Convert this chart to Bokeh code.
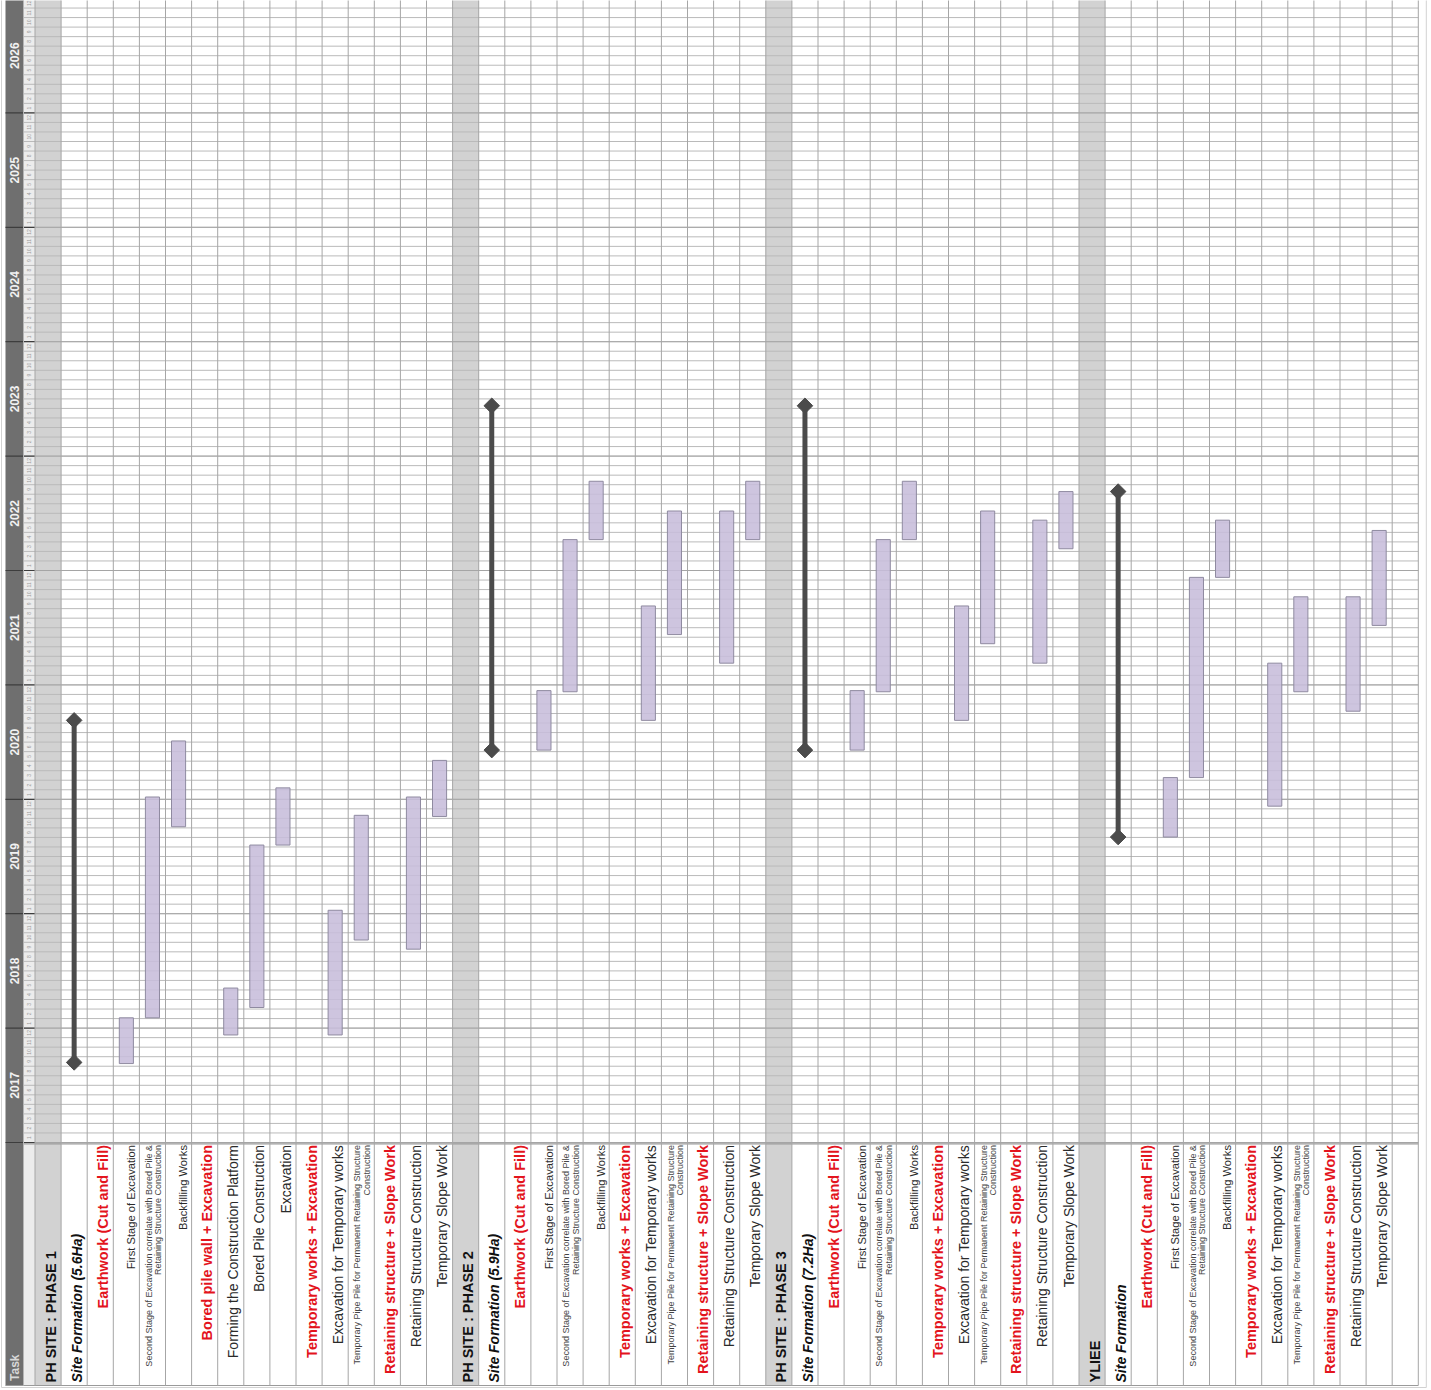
import numpy as np
from bokeh.plotting import figure
from bokeh.models import Range1d, ColumnDataSource
from bokeh.core.properties import value
from bokeh.embed import file_html
from bokeh.resources import INLINE

# ---------------- data ----------------
years = list(range(2017, 2027))
year_labels = [str(y) for y in years]
month_labels = [str(m) for m in range(1, 13)]
axis_title = "Task"

row_labels = [
    "PH SITE : PHASE 1", "Site Formation (5.6Ha)", "Earthwork (Cut and Fill)",
    "First Stage of Excavation",
    "Second Stage of Excavation correlate with Bored Pile &\nRetaining Structure Construction",
    "Backfilling Works", "Bored pile wall + Excavation", "Forming the Construction Platform",
    "Bored Pile Construction", "Excavation", "Temporary works + Excavation",
    "Excavation for Temporary works",
    "Temporary Pipe Pile for Permanent Retaining Structure\nConstruction",
    "Retaining structure + Slope Work", "Retaining Structure Construction", "Temporary Slope Work",
    "PH SITE : PHASE 2", "Site Formation (5.9Ha)", "Earthwork (Cut and Fill)",
    "First Stage of Excavation",
    "Second Stage of Excavation correlate with Bored Pile &\nRetaining Structure Construction",
    "Backfilling Works", "Temporary works + Excavation", "Excavation for Temporary works",
    "Temporary Pipe Pile for Permanent Retaining Structure\nConstruction",
    "Retaining structure + Slope Work", "Retaining Structure Construction", "Temporary Slope Work",
    "PH SITE : PHASE 3", "Site Formation (7.2Ha)", "Earthwork (Cut and Fill)",
    "First Stage of Excavation",
    "Second Stage of Excavation correlate with Bored Pile &\nRetaining Structure Construction",
    "Backfilling Works", "Temporary works + Excavation", "Excavation for Temporary works",
    "Temporary Pipe Pile for Permanent Retaining Structure\nConstruction",
    "Retaining structure + Slope Work", "Retaining Structure Construction", "Temporary Slope Work",
    "YLIEE", "Site Formation", "Earthwork (Cut and Fill)",
    "First Stage of Excavation",
    "Second Stage of Excavation correlate with Bored Pile &\nRetaining Structure Construction",
    "Backfilling Works", "Temporary works + Excavation", "Excavation for Temporary works",
    "Temporary Pipe Pile for Permanent Retaining Structure\nConstruction",
    "Retaining structure + Slope Work", "Retaining Structure Construction", "Temporary Slope Work",
    "",
]
row_kinds = [
    "phase", "sf", "group", "task_s", "tiny", "task_s", "group", "task", "task", "task",
    "group", "task", "tiny", "group", "task", "task",
    "phase", "sf", "group", "task_s", "tiny", "task_s", "group", "task", "tiny", "group", "task", "task",
    "phase", "sf", "group", "task_s", "tiny", "task_s", "group", "task", "tiny", "group", "task", "task",
    "phase", "sf", "group", "task_s", "tiny", "task_s", "group", "task", "tiny", "group", "task", "task",
    "empty",
]

# summary (milestone) lines
ms_row = [1, 17, 29, 41]
ms_start = [2017.70, 2020.43, 2020.43, 2019.67]
ms_end = [2020.69, 2023.44, 2023.44, 2022.69]

# task bars
bar_row = [3, 4, 5, 7, 8, 9, 11, 12, 14, 15,
           19, 20, 21, 23, 24, 26, 27,
           31, 32, 33, 35, 36, 38, 39,
           43, 44, 45, 47, 48, 50, 51]
bar_start = [2017.69, 2018.09, 2019.76, 2017.94, 2018.18, 2019.60, 2017.94, 2018.77, 2018.69, 2019.85,
             2020.43, 2020.94, 2022.27, 2020.69, 2021.44, 2021.19, 2022.27,
             2020.43, 2020.94, 2022.27, 2020.69, 2021.36, 2021.19, 2022.19,
             2019.67, 2020.19, 2021.94, 2019.94, 2020.94, 2020.77, 2021.52]
bar_end = [2018.09, 2020.02, 2020.51, 2018.35, 2019.60, 2020.10, 2019.03, 2019.86, 2020.02, 2020.34,
           2020.95, 2022.27, 2022.78, 2021.69, 2022.52, 2022.52, 2022.78,
           2020.95, 2022.27, 2022.78, 2021.69, 2022.52, 2022.44, 2022.69,
           2020.19, 2021.94, 2022.44, 2021.19, 2021.77, 2021.77, 2022.35]

# ---------------- layout ----------------
ROW_PX = 26.1      # pixels per row
ROW0_PX = 34.5     # pixel position of the first row's left edge
YEAR_PX = 114.4    # pixels per year
W, H = 1431, 1390
n_rows = len(row_labels)
x_left = -ROW0_PX / ROW_PX
x_right = x_left + W / ROW_PX
y0 = years[0]
y_top = y0 + 1142 / YEAR_PX
y_bot = y_top - H / YEAR_PX
y_task_bottom = y0 - (1385 - 1142) / YEAR_PX
strip_l = (5 - ROW0_PX) / ROW_PX
strip_r = (23 - ROW0_PX) / ROW_PX
y_end = years[-1] + 1

FONT = value("Liberation Sans")

p = figure(width=W, height=H, output_backend="svg", toolbar_location=None,
           x_range=Range1d(x_left, x_right), y_range=Range1d(y_bot, y_top),
           min_border=0, background_fill_color="white", border_fill_color="white")
p.axis.visible = False
p.grid.visible = False
p.outline_line_color = None

# outer frame
p.quad(left=[strip_l - 4 / ROW_PX], right=[n_rows + 8 / ROW_PX], bottom=[y_bot + 3 / YEAR_PX],
       top=[y_top + 0.5], fill_color=None, line_color="#d2d2d2", line_width=1)

# dark year strip and month column
p.quad(left=[strip_l], right=[strip_r], bottom=[y_task_bottom], top=[y_top + 0.5],
       fill_color="#6f6f6f", line_color=None)
p.quad(left=[strip_r], right=[0], bottom=[y_task_bottom], top=[y_top + 0.5],
       fill_color="#ececec", line_color=None)

# shaded phase header rows
header_rows = [i for i, k in enumerate(row_kinds) if k == "phase"]
p.quad(left=header_rows, right=[h + 1 for h in header_rows],
       bottom=[y_task_bottom] * len(header_rows), top=[y_top + 0.5] * len(header_rows),
       fill_color="#d2d2d2", line_color=None)

# month grid lines
month_y = [y + m / 12 for y in years for m in range(12)] + [y_end]
p.segment(x0=[strip_r] * len(month_y), x1=[n_rows] * len(month_y), y0=month_y, y1=month_y,
          line_color="#bababa", line_width=1)
# year lines
year_y = years + [y_end]
p.segment(x0=[strip_l] * len(year_y), x1=[0] * len(year_y), y0=year_y, y1=year_y,
          line_color="#3d3d3d", line_width=1.2)
p.segment(x0=[0] * len(year_y), x1=[n_rows] * len(year_y), y0=year_y, y1=year_y,
          line_color="#a5a5a5", line_width=1)
# bottom of time area / bottom of task area
p.segment(x0=[strip_r, strip_l], x1=[n_rows, n_rows], y0=[y0 - 0.012, y_task_bottom],
          y1=[y0 - 0.012, y_task_bottom], line_color="#9a9a9a", line_width=1.2)

# vertical row lines
vx = list(range(n_rows + 1))
p.segment(x0=vx, x1=vx, y0=[y_task_bottom] * len(vx), y1=[y_top + 0.5] * len(vx),
          line_color="#a6a6a6", line_width=1)
p.segment(x0=[strip_r], x1=[strip_r], y0=[y_task_bottom], y1=[y_top + 0.5],
          line_color="#b5b5b5", line_width=1)

# month numbers
mx, my, mt = [], [], []
for y in years:
    for m, lab in enumerate(month_labels):
        mx.append(strip_r / 2)
        my.append(y + (m + 0.5) / 12)
        mt.append(lab)
p.text(x=mx, y=my, text=mt, angle=np.pi / 2, text_align="center", text_baseline="middle",
       text_font=FONT, text_font_size="5px", text_color="#9a9a9a")

# year labels
p.text(x=[(strip_l + strip_r) / 2] * len(years), y=[y + 0.5 for y in years], text=year_labels,
       angle=np.pi / 2, text_align="center", text_baseline="middle", text_font=FONT,
       text_font_size="12px", text_font_style="bold", text_color="#f2f2f2")
p.text(x=[(strip_l + strip_r) / 2], y=[y_task_bottom + 0.04], text=[axis_title], angle=np.pi / 2,
       text_align="left", text_baseline="middle", text_font=FONT, text_font_size="12px",
       text_font_style="bold", text_color="#d8d8d8")

# bars
bar_half = 0.27
p.quad(left=[r + 0.5 - bar_half for r in bar_row], right=[r + 0.5 + bar_half for r in bar_row],
       bottom=bar_start, top=bar_end, fill_color="#c7bddb", fill_alpha=0.88,
       line_color="#8f8aa0", line_width=1)

# milestones
p.segment(x0=[r + 0.5 for r in ms_row], x1=[r + 0.5 for r in ms_row], y0=ms_start, y1=ms_end,
          line_color="#4b4b4b", line_width=5)
p.scatter(x=[r + 0.5 for r in ms_row] * 2, y=ms_start + ms_end, marker="square", size=11,
          angle=np.pi / 4, fill_color="#4b4b4b", line_color="#4b4b4b")

# task labels
styles = {
    "phase": dict(size="14.5px", style="bold", color="#111111", align="left"),
    "sf": dict(size="14px", style="bold italic", color="#111111", align="left"),
    "group": dict(size="14.5px", style="bold", color="#e3141d", align="right"),
    "task": dict(size="14px", style="normal", color="#2a2a2a", align="right"),
    "task_s": dict(size="11.2px", style="normal", color="#2a2a2a", align="right"),
    "tiny": dict(size="9px", style="normal", color="#444444", align="right"),
}
y_right_anchor = y0 - 2.5 / YEAR_PX
y_left_anchor = y_task_bottom + 3 / YEAR_PX
for kind, st in styles.items():
    xs, ys, ts = [], [], []
    for i, (lab, k) in enumerate(zip(row_labels, row_kinds)):
        if k != kind:
            continue
        lines = lab.split("\n")
        n = len(lines)
        for j, line in enumerate(lines):
            off = (n - 1 - j) * 9.5 / ROW_PX
            xs.append(i + 1 - 2.5 / ROW_PX - off)
            ys.append(y_left_anchor if st["align"] == "left" else y_right_anchor)
            ts.append(line)
    src = ColumnDataSource(dict(x=xs, y=ys, text=ts))
    p.text(x="x", y="y", text="text", source=src, angle=np.pi / 2, text_align=st["align"],
           text_baseline="bottom", text_font=FONT, text_font_size=st["size"],
           text_font_style=st["style"], text_color=st["color"])

open("out.html", "w").write(file_html(p, INLINE))
